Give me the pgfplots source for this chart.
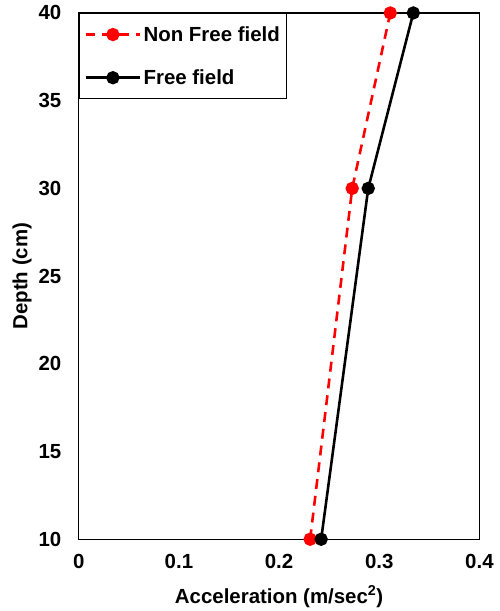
\documentclass[border=0pt]{standalone}
\usepackage{pgfplots}
\pgfplotsset{compat=1.18}
\usepackage{fontspec}
\setmainfont{Liberation Sans}
\newcommand{\chartfont}{\fontsize{20.5bp}{24bp}\selectfont\bfseries}
\begin{document}
\begin{tikzpicture}[font=\chartfont]
\begin{axis}[
  scale only axis,
  width=402bp, height=528bp,
  xmin=0, xmax=0.4, ymin=10, ymax=40,
  xtick={0,0.1,...,0.4},
  ytick={10,15,...,40},
  major tick length=0pt,
  /pgf/number format/assume math mode=true,
  /pgf/number format/fixed,
  ticklabel style={font=\chartfont},
  xticklabel style={yshift=-12bp},
  yticklabel style={xshift=-14bp},
  xlabel={Acceleration (m/sec\textsuperscript{2})},
  ylabel={Depth (cm)},
  label style={font=\chartfont},
  xlabel style={yshift=-10bp},
  ylabel style={yshift=0bp},
  axis line style={line width=1.3pt},
  legend cell align=left,
  legend style={at={(0,1)}, anchor=north west, draw=black, line width=1pt,
    font=\chartfont, row sep=23bp, inner xsep=5bp, inner ysep=11bp},
  legend image code/.code={\draw[mark repeat=2,mark phase=2]
    plot coordinates {(0cm,0cm) (0.97cm,0cm) (1.94cm,0cm)};},
]
\addplot[red, dash pattern=on 10pt off 7pt, line width=2.6pt, mark=*, mark size=5.4pt, mark options={solid}]
  coordinates {(0.231,10) (0.273,30) (0.311,40)};
\addlegendentry{Non Free field}
\addplot[black, line width=2.6pt, mark=*, mark size=5.4pt]
  coordinates {(0.242,10) (0.289,30) (0.334,40)};
\addlegendentry{Free field}
\end{axis}
\path ([shift={(-79bp,-70bp)}]current axis.south west)
  rectangle ([shift={(20bp,13bp)}]current axis.north east);
\end{tikzpicture}
\end{document}
